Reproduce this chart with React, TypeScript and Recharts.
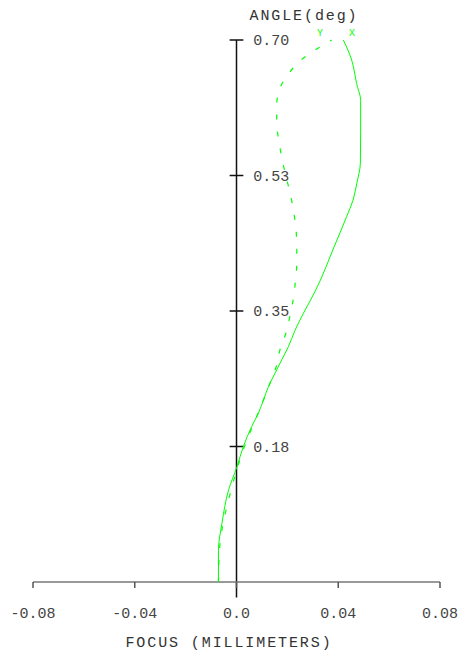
import React from "react";
import {
  ReferenceLine,
  Scatter,
  ScatterChart,
  XAxis,
  YAxis,
} from "recharts";

// tangential (X) field curve
const xAngle = [
  0, 0.041, 0.076, 0.119, 0.149, 0.175, 0.201, 0.218, 0.235, 0.252, 0.27,
  0.287, 0.304, 0.325, 0.347, 0.364, 0.39, 0.407, 0.43, 0.451, 0.472, 0.493,
  0.515, 0.541, 0.58, 0.622, 0.644, 0.66, 0.674, 0.687, 0.7,
];
const xFocus = [
  -0.0071, -0.0071, -0.0057, -0.0031, 0.0002, 0.0027, 0.006, 0.0086, 0.0106,
  0.0125, 0.0152, 0.0178, 0.0204, 0.023, 0.0263, 0.0291, 0.033, 0.0352,
  0.038, 0.0407, 0.0433, 0.0458, 0.0473, 0.0487, 0.0488, 0.0488, 0.0472,
  0.0463, 0.0453, 0.0438, 0.042,
];

// sagittal (Y) field curve
const yAngle = [
  0, 0.041, 0.083, 0.106, 0.13, 0.171, 0.194, 0.214, 0.235, 0.257, 0.278, 0.3,
  0.322, 0.345, 0.367, 0.39, 0.412, 0.433, 0.455, 0.48, 0.502, 0.523, 0.545,
  0.569, 0.593, 0.615, 0.638, 0.656, 0.673, 0.687, 0.7,
];
const yFocus = [
  -0.0071, -0.0067, -0.0048, -0.0031, -0.0012, 0.0027, 0.0054, 0.008, 0.0106,
  0.0132, 0.0156, 0.0171, 0.0195, 0.0211, 0.0224, 0.0232, 0.0237, 0.0237,
  0.0234, 0.0224, 0.0211, 0.0195, 0.018, 0.0167, 0.0158, 0.0158, 0.0171,
  0.0204, 0.025, 0.0309, 0.0374,
];

const focusTicks = [-0.08, -0.04, 0, 0.04, 0.08];
const focusTickLabels = ["-0.08", "-0.04", "0.0", "0.04", "0.08"];
const angleTicks = [0.175, 0.35, 0.525, 0.7];
const angleTickLabels = ["0.18", "0.35", "0.53", "0.70"];

const xData = xAngle.map((a, i) => ({ focus: xFocus[i], angle: a }));
const yData = yAngle.map((a, i) => ({ focus: yFocus[i], angle: a }));

const W = 459;
const H = 651;
const MONO = "'Liberation Mono', 'DejaVu Sans Mono', monospace";
const GREEN = "#00ff00";
const TICK_HALF = 0.0027; // half length of angle tick marks, in focus units

const noDot = () => <g />;

export default function App() {
  return (
    <div style={{ position: "absolute", left: 0, top: 0, width: W, height: H, background: "#fff" }}>
      <ScatterChart
        width={W}
        height={H}
        margin={{ top: 40, right: 19, bottom: 0, left: 33 }}
      >
        <XAxis
          type="number"
          dataKey="focus"
          domain={[-0.08, 0.08]}
          ticks={focusTicks}
          tickFormatter={(v: number) => focusTickLabels[focusTicks.indexOf(v)]}
          height={69}
          tickSize={6}
          tickMargin={19}
          axisLine={{ stroke: "#777", strokeWidth: 1.5 }}
          tickLine={{ stroke: "#555", strokeWidth: 1.5 }}
          tick={{ fill: "#444", fontSize: 15, fontFamily: MONO }}
          allowDataOverflow
        />
        <YAxis type="number" dataKey="angle" domain={[0, 0.7]} hide />

        {/* angle axis runs through zero focus */}
        <ReferenceLine
          segment={[
            { x: 0, y: -0.02 },
            { x: 0, y: 0.7 },
          ]}
          stroke="#111"
          strokeWidth={1.5}
          ifOverflow="visible"
        />
        {angleTicks.map((t, i) => (
          <ReferenceLine
            key={t}
            segment={[
              { x: -TICK_HALF, y: t },
              { x: TICK_HALF, y: t },
            ]}
            stroke="#111"
            strokeWidth={1.5}
            ifOverflow="visible"
            label={{
              value: angleTickLabels[i],
              position: "right",
              offset: 10,
              fill: "#444",
              fontSize: 15,
              fontFamily: MONO,
            }}
          />
        ))}

        <Scatter
          name="X"
          data={xData}
          line={{ stroke: GREEN, strokeWidth: 1 }}
          lineJointType="monotoneY"
          shape={noDot}
          isAnimationActive={false}
        />
        <Scatter
          name="Y"
          data={yData}
          line={{ stroke: GREEN, strokeWidth: 1.2, strokeDasharray: "5 12" }}
          lineJointType="monotoneY"
          shape={noDot}
          isAnimationActive={false}
        />
      </ScatterChart>

      <svg
        width={W}
        height={H}
        style={{ position: "absolute", left: 0, top: 0, pointerEvents: "none" }}
      >
        <text x={304} y={19.5} textAnchor="middle" fill="#333" fontSize={15} fontFamily={MONO} letterSpacing={1.9}>
          ANGLE(deg)
        </text>
        <text x={320} y={35.5} textAnchor="middle" fill={GREEN} fontSize={10} fontFamily={MONO}>
          Y
        </text>
        <text x={352} y={35.5} textAnchor="middle" fill={GREEN} fontSize={10} fontFamily={MONO}>
          X
        </text>
        <text x={229} y={647} textAnchor="middle" fill="#333" fontSize={15} fontFamily={MONO} letterSpacing={1.9}>
          FOCUS (MILLIMETERS)
        </text>
      </svg>
    </div>
  );
}
